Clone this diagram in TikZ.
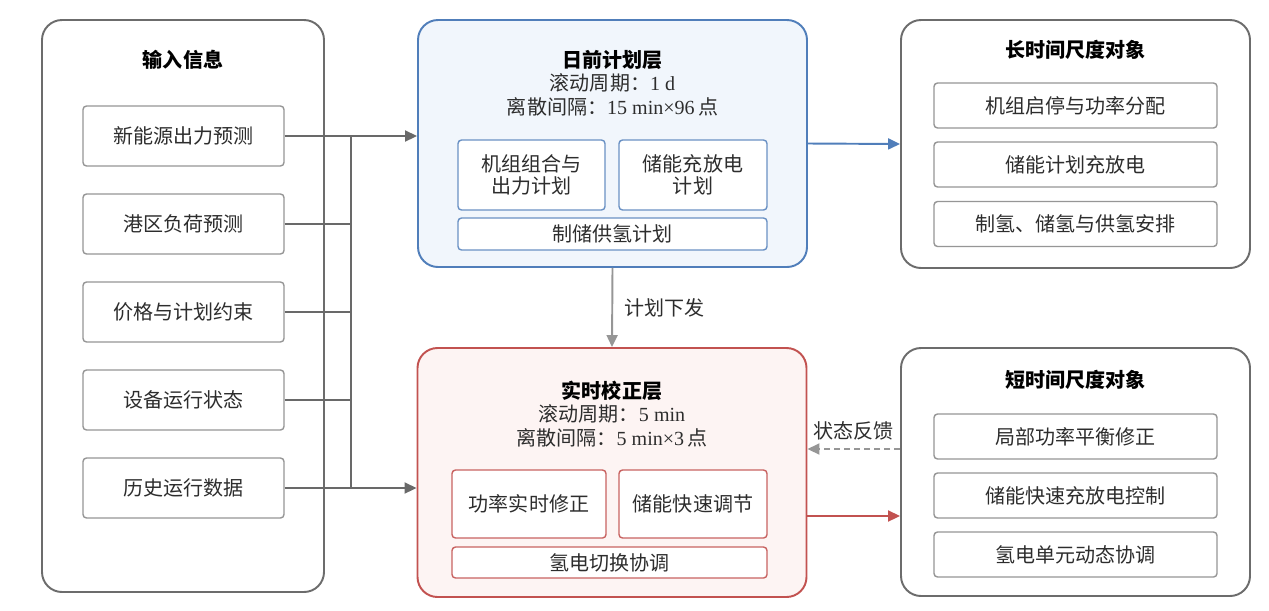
\documentclass[tikz,border=0pt]{standalone}
\usepackage{fontspec}
\setmainfont{Liberation Serif}
\newfontfamily\cjk{Noto Sans CJK SC}
\usetikzlibrary{arrows.meta, positioning, calc}

\definecolor{framegray}{RGB}{108,108,108}
\definecolor{boxgray}{RGB}{150,150,150}
\definecolor{arrowgray}{RGB}{105,105,105}
\definecolor{softgray}{RGB}{150,150,150}
\definecolor{lineblue}{RGB}{80,126,186}
\definecolor{fillblue}{RGB}{241,246,252}
\definecolor{linered}{RGB}{194,82,80}
\definecolor{fillred}{RGB}{253,244,243}
\definecolor{textgray}{RGB}{45,45,45}

\newcommand{\txtsize}{\fontsize{11.4}{13.3}\selectfont}

\begin{document}
\begin{tikzpicture}[
      font=\cjk\txtsize,
      every node/.style={text=textgray},
      outerbox/.style={draw=framegray, line width=1.1pt, rounded corners=0.4cm, fill=white},
      planbox/.style={draw=lineblue, line width=1.1pt, rounded corners=0.4cm, fill=fillblue},
      realbox/.style={draw=linered, line width=1.1pt, rounded corners=0.4cm, fill=fillred},
      inbox/.style={draw=boxgray, line width=0.8pt, rounded corners=2pt, fill=white, inner sep=0pt, minimum width=4.02cm, minimum height=1.2cm},
      objbox/.style={draw=boxgray, line width=0.8pt, rounded corners=2pt, fill=white, inner sep=0pt, minimum width=5.66cm, minimum height=0.9cm},
      planitem/.style={draw=lineblue!85, line width=0.8pt, rounded corners=2pt, fill=white, inner sep=0pt, align=center, font=\cjk\fontsize{11.4}{12.2}\selectfont},
      realitem/.style={draw=linered!90, line width=0.8pt, rounded corners=2pt, fill=white, inner sep=0pt, align=center},
      headline/.style={font=\cjk\bfseries\txtsize, text=black},
      line/.style={draw=arrowgray, line width=1.1pt},
      arrow/.style={-{Triangle[length=0.24cm, width=0.22cm]}, line width=1.1pt}
    ]
      \useasboundingbox (0,0) rectangle (25.38,-12.2);

      % Input column
      \node[outerbox, minimum width=5.64cm, minimum height=11.44cm] (input) at (3.66,-6.12) {};
      \node[headline] (inputtitle) at (3.66,-1.2) {输入信息};
      \foreach \name/\txt [count=\i from 0] in {in1/新能源出力预测, in2/港区负荷预测, in3/价格与计划约束, in4/设备运行状态, in5/历史运行数据} {
        \node[inbox] (\name) at (3.67,-2.72-1.76*\i) {\txt};
      }

      % Day-ahead layer
      \node[planbox, minimum width=7.78cm, minimum height=4.94cm] (plan) at (12.25,-2.87) {};
      \node[align=center] (plantitle) at (12.25,-1.66) {{\bfseries\color{black} 日前计划层}\\滚动周期：{\rmfamily 1 d}\\离散间隔：{\rmfamily 15 min×96\,}点};
      \node[planitem, minimum width=2.94cm, minimum height=1.4cm] (plan1) at (10.63,-3.5) {机组组合与\\出力计划};
      \node[planitem, minimum width=2.96cm, minimum height=1.4cm] (plan2) at (13.86,-3.5) {储能充放电\\计划};
      \node[planitem, minimum width=6.18cm, minimum height=0.64cm] (plan3) at (12.25,-4.68) {制储供氢计划};

      % Real-time layer
      \node[realbox, minimum width=7.78cm, minimum height=4.98cm] (rt) at (12.24,-9.45) {};
      \node[align=center] (rttitle) at (12.24,-8.28) {{\bfseries\color{black} 实时校正层}\\滚动周期：{\rmfamily 5 min}\\离散间隔：{\rmfamily 5 min×3\,}点};
      \node[realitem, minimum width=3.08cm, minimum height=1.36cm] (rt1) at (10.58,-10.08) {功率实时修正};
      \node[realitem, minimum width=2.96cm, minimum height=1.36cm] (rt2) at (13.86,-10.08) {储能快速调节};
      \node[realitem, minimum width=6.3cm, minimum height=0.62cm] (rt3) at (12.19,-11.25) {氢电切换协调};

      % Long time-scale objects
      \node[outerbox, minimum width=6.98cm, minimum height=4.96cm] (longobj) at (21.51,-2.88) {};
      \node[headline] (longtitle) at (21.51,-1.0) {长时间尺度对象};
      \node[objbox] (long1) at (21.51,-2.11) {机组启停与功率分配};
      \node[objbox] (long2) at (21.51,-3.29) {储能计划充放电};
      \node[objbox] (long3) at (21.51,-4.48) {制氢、储氢与供氢安排};

      % Short time-scale objects
      \node[outerbox, minimum width=6.98cm, minimum height=4.96cm] (shortobj) at (21.51,-9.44) {};
      \node[headline] (shorttitle) at (21.51,-7.6) {短时间尺度对象};
      \node[objbox] (short1) at (21.51,-8.73) {局部功率平衡修正};
      \node[objbox] (short2) at (21.51,-9.91) {储能快速充放电控制};
      \node[objbox] (short3) at (21.51,-11.09) {氢电单元动态协调};

      % Input bus
      \coordinate (bus) at (7.02,0);
      \foreach \name in {in2,in3,in4} {
        \draw[line] (\name.east) -- (\name.east -| bus);
      }
      \draw[line] (in1.east -| bus) -- (in5.east -| bus);
      \draw[arrow, arrowgray] (in1.east) -- (in1.east -| plan.west);
      \draw[arrow, arrowgray] (in5.east) -- (in5.east -| rt.west);

      % Layer links
      \draw[arrow, softgray] (plan.south) -- node[right=0.1cm, text=textgray] {计划下发} (rt.north);
      \draw[arrow, lineblue] (plan.east) -- (longobj.west);
      \coordinate (feedback) at ([yshift=0.46cm]shortobj.west);
      \draw[arrow, softgray, dash pattern=on 3.4pt off 2.3pt] (feedback) -- node[above=1pt, text=textgray] {状态反馈} (feedback -| rt.east);
      \coordinate (control) at ([yshift=-0.87cm]rt.east);
      \draw[arrow, linered] (control) -- (control -| shortobj.west);
    \end{tikzpicture}
\end{document}
